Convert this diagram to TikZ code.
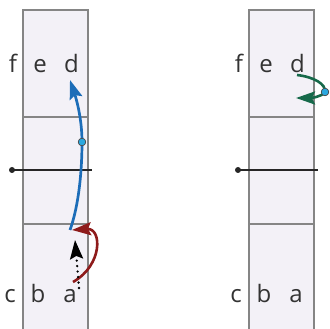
\documentclass[tikz,border=0pt]{standalone}
\usepackage{fontspec}
\setmainfont{Open Sans}
\usetikzlibrary{arrows.meta}
\definecolor{colfill}{HTML}{F3F1F7}
\definecolor{colborder}{HTML}{858585}
\definecolor{colblue}{HTML}{1C6DB8}
\definecolor{coldot}{HTML}{2AA8E0}
\definecolor{colred}{HTML}{8E1B1B}
\definecolor{colgreen}{HTML}{16694A}
\definecolor{coltext}{HTML}{333333}
\tikzset{
  lbl/.style={inner sep=0pt, text=coltext, font=\fontsize{24}{26}\selectfont, anchor=base},
  colbox/.style={draw=colborder, line width=1.5pt},
  divider/.style={draw=colborder, line width=1.5pt},
  axis/.style={draw=black!85, line width=2pt},
  axisdot/.style={circle, fill=black!85, inner sep=0pt, minimum size=6pt},
  mdot/.style={circle, fill=coldot, draw=black!70, line width=0.6pt, inner sep=0pt, minimum size=7.5pt},
  tip/.style={-{Stealth[length=19pt,width=13pt,inset=3pt]}},
}
\begin{document}
\begin{tikzpicture}[x=1pt,y=-1pt]
\useasboundingbox (0,0) rectangle (330,329);
% columns
\fill[colfill] (23,10) rectangle (88,335);
\draw[colbox] (23,335) -- (23,10) -- (88,10) -- (88,335);
\fill[colfill] (249,10) rectangle (314,335);
\draw[colbox] (249,335) -- (249,10) -- (314,10) -- (314,335);
\draw[divider] (23,117) -- (88,117);
\draw[divider] (23,224) -- (88,224);
\draw[divider] (249,117) -- (314,117);
\draw[divider] (249,224) -- (314,224);
% axes
\node[axisdot] (ldot) at (12,170) {};
\coordinate (lend) at (92,170);
\draw[axis] (ldot.center) -- (lend);
\node[axisdot] (rdot) at (238,170) {};
\coordinate (rend) at (318,170);
\draw[axis] (rdot.center) -- (rend);
% labels left
\node[lbl] (lf) at (13,73) {f};
\node[lbl] (le) at (40,73) {e};
\node[lbl] (ld) at (71.5,73) {d};
\node[lbl] (lc) at (10,302) {c};
\node[lbl] (lb) at (38,302) {b};
\node[lbl] (la) at (70,302) {a};
% labels right
\node[lbl] (rf) at (239,73) {f};
\node[lbl] (re) at (266,73) {e};
\node[lbl] (rd) at (297.5,73) {d};
\node[lbl] (rc) at (236,302) {c};
\node[lbl] (rb) at (264,302) {b};
\node[lbl] (ra) at (296,302) {a};
% left arrows
\coordinate (bstart) at (70,230);
\coordinate (bend) at (70,80);
\node[mdot] (bdot) at (82,142) {};
\draw[colblue, line width=2.7pt, tip] (bstart) .. controls (79,205) and (82,170) .. (bdot.center) .. controls (82,118) and (76,98) .. (bend);
\node[mdot] at (bdot) {};
\coordinate (rstart) at (73,282);
\coordinate (rendp) at (72,230);
\draw[colred, line width=2.6pt, tip] (rstart) .. controls (103,265) and (102,228) .. (rendp);
\coordinate (kstart) at (79,288);
\coordinate (kend) at (75,240);
\draw[black, line width=2.6pt, dash pattern=on 0pt off 5.5pt, line cap=round, tip] (kstart) -- (kend);
% right arrow
\coordinate (gstart) at (297,75);
\node[mdot] (gdot) at (325,92) {};
\coordinate (gend) at (296,98);
\draw[colgreen, line width=2.6pt, tip] (gstart) .. controls (314,77) and (326,84) .. (gdot.center) .. controls (322,97) and (310,98) .. (gend);
\node[mdot] at (gdot) {};
\end{tikzpicture}
\end{document}
